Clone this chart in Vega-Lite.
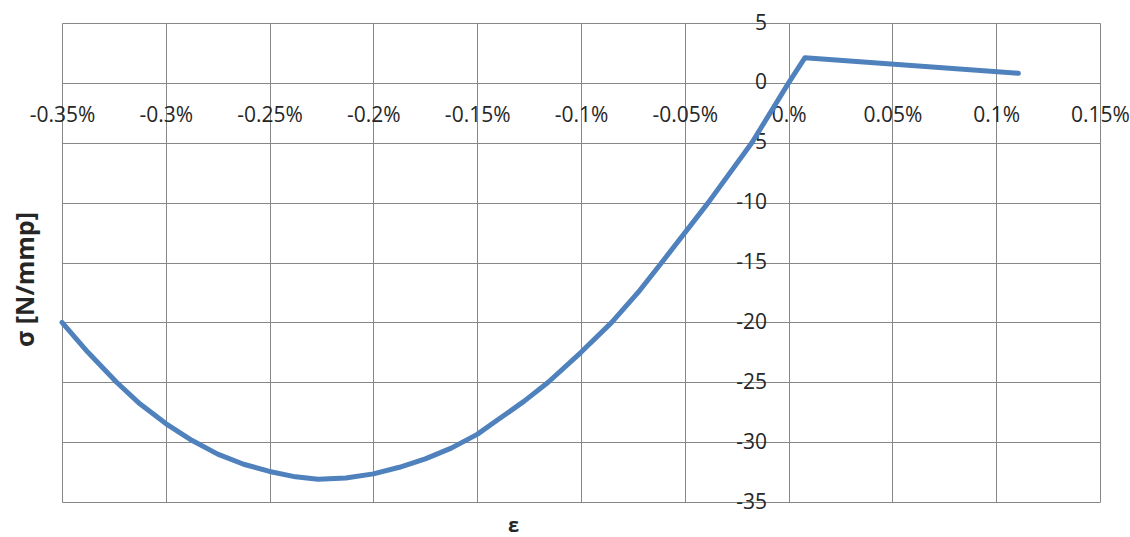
{
  "$schema": "https://vega.github.io/schema/vega-lite/v6.json",
  "width": 1038,
  "height": 479,
  "autosize": {"type": "none"},
  "padding": {"left": 62, "top": 23, "right": 30, "bottom": 35},
  "background": "white",
  "config": {
    "view": {"stroke": null},
    "font": "Open Sans",
    "axis": {
      "labelFont": "Open Sans",
      "labelFontSize": 21,
      "labelColor": "#262626",
      "gridColor": "#878787",
      "gridWidth": 1,
      "gridOpacity": 1,
      "domain": false,
      "ticks": false,
      "labelOverlap": false,
      "labelBound": false,
      "labelFlush": false,
      "titleFont": "Open Sans",
      "titleFontWeight": "bold",
      "titleColor": "#262626"
    }
  },
  "data": {
    "values": [
      {"strain": -0.35, "stress": -20.0},
      {"strain": -0.3375, "stress": -22.5},
      {"strain": -0.3237, "stress": -25.0},
      {"strain": -0.3125, "stress": -26.8},
      {"strain": -0.30, "stress": -28.45},
      {"strain": -0.2875, "stress": -29.85},
      {"strain": -0.275, "stress": -31.0},
      {"strain": -0.2625, "stress": -31.85},
      {"strain": -0.25, "stress": -32.45},
      {"strain": -0.2375, "stress": -32.9},
      {"strain": -0.2267, "stress": -33.1},
      {"strain": -0.2133, "stress": -33.0},
      {"strain": -0.20, "stress": -32.65},
      {"strain": -0.1875, "stress": -32.1},
      {"strain": -0.175, "stress": -31.4},
      {"strain": -0.1625, "stress": -30.5},
      {"strain": -0.15, "stress": -29.35},
      {"strain": -0.1406, "stress": -28.2},
      {"strain": -0.1275, "stress": -26.6},
      {"strain": -0.1158, "stress": -25.0},
      {"strain": -0.10, "stress": -22.5},
      {"strain": -0.0852, "stress": -20.0},
      {"strain": -0.0725, "stress": -17.5},
      {"strain": -0.0611, "stress": -15.0},
      {"strain": -0.0387, "stress": -10.0},
      {"strain": -0.0177, "stress": -5.0},
      {"strain": 0.0, "stress": 0.0},
      {"strain": 0.0079, "stress": 2.1},
      {"strain": 0.1107, "stress": 0.8}
    ]
  },
  "mark": {"type": "line", "color": "#4f81bd", "strokeWidth": 5, "strokeJoin": "round", "strokeCap": "round"},
  "encoding": {
    "x": {
      "field": "strain",
      "type": "quantitative",
      "scale": {"domain": [-0.35, 0.15], "nice": false, "zero": false},
      "axis": {
        "orient": "bottom",
        "offset": -419.1,
        "values": [-0.35, -0.3, -0.25, -0.2, -0.15, -0.1, -0.05, 0, 0.05, 0.1, 0.15],
        "labelExpr": "datum.value == 0 ? '0.%' : (datum.value < 0 ? '-' : '') + format(abs(datum.value), '.2~f') + '%'",
        "labelPadding": 22,
        "title": "ε",
        "titleFontSize": 20,
        "titleX": 451,
        "titleY": 453,
        "titleBaseline": "bottom",
        "titleAlign": "center"
      }
    },
    "y": {
      "field": "stress",
      "type": "quantitative",
      "scale": {"domain": [-35, 5], "nice": false, "zero": false},
      "axis": {
        "orient": "left",
        "offset": -726.6,
        "values": [-35, -30, -25, -20, -15, -10, -5, 0, 5],
        "labelExpr": "(datum.value < 0 ? '-' : '') + abs(datum.value)",
        "labelPadding": 22,
        "title": "σ [N/mmp]",
        "titleFontSize": 25,
        "titleX": -763,
        "titleY": 256,
        "titleAngle": -90,
        "titleBaseline": "middle",
        "titleAlign": "center"
      }
    }
  }
}
